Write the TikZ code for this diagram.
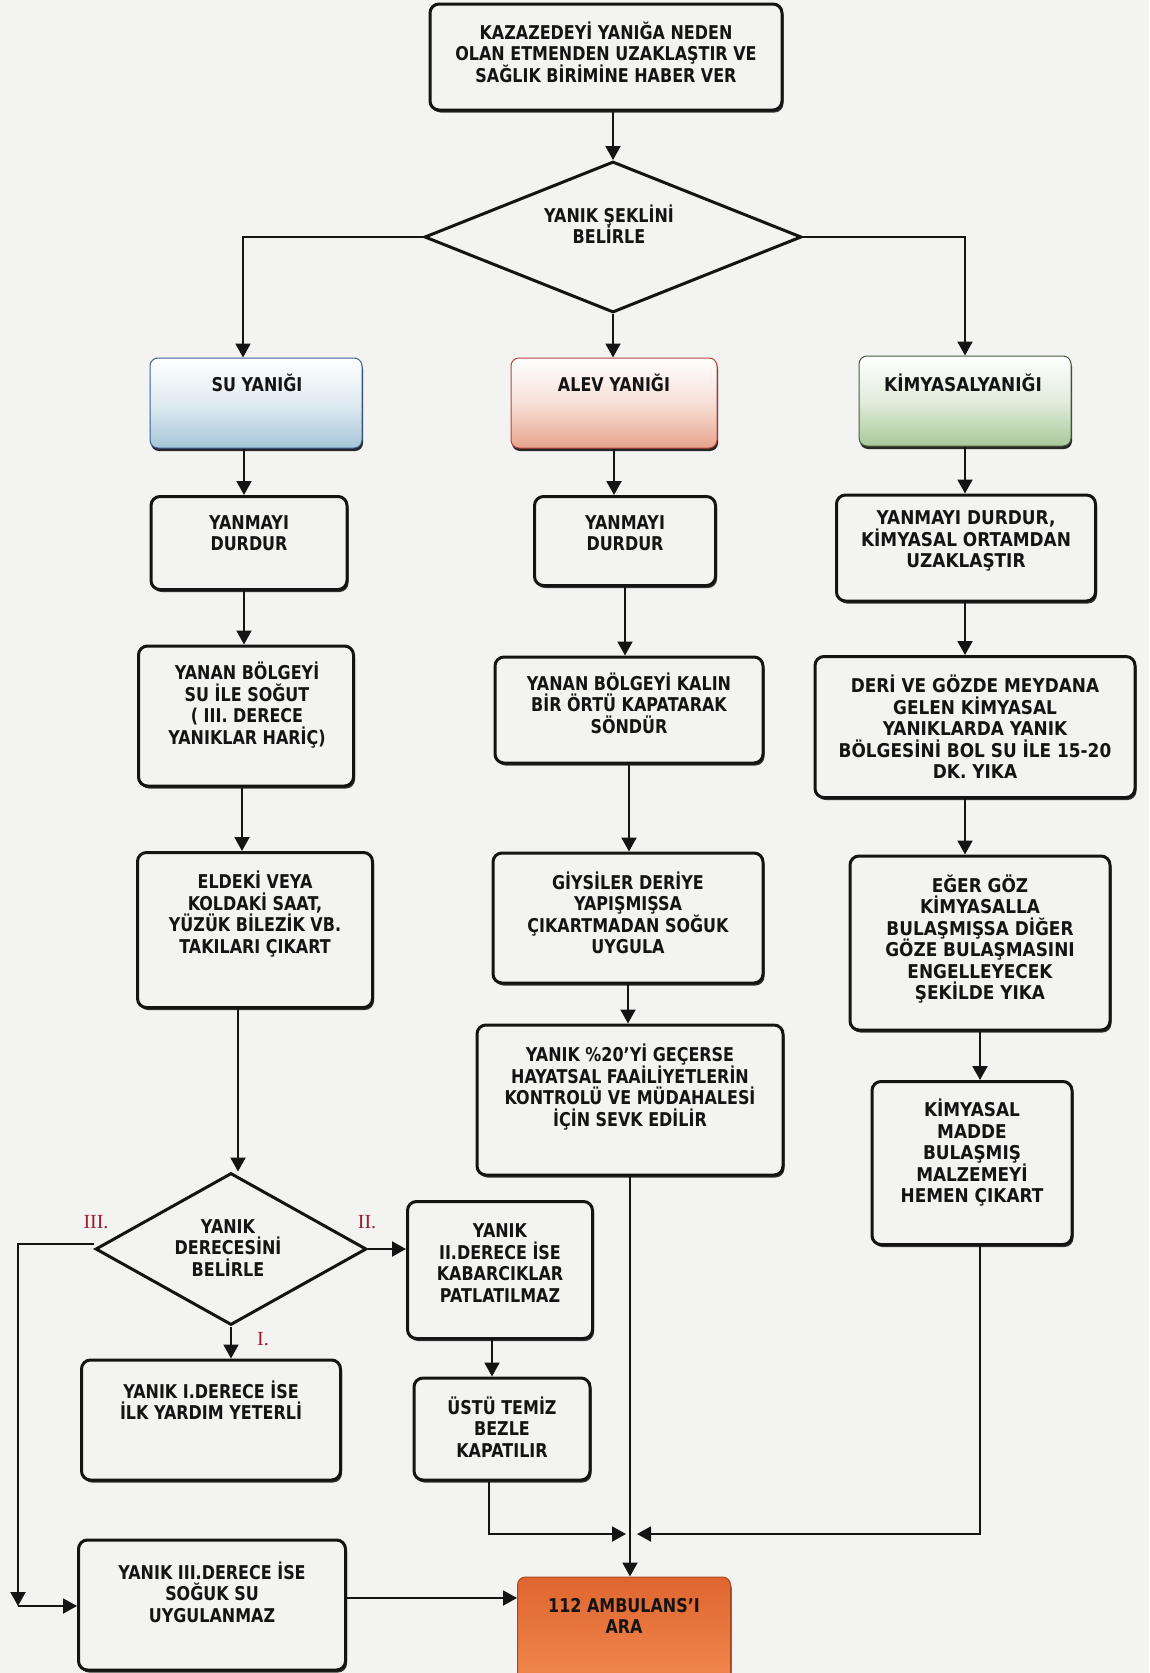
\documentclass[tikz,border=0pt]{standalone}
\usepackage{fontspec}
\setmainfont{DejaVu Sans}[FakeStretch=0.84]
\newfontfamily\widefont{DejaVu Sans}[FakeStretch=0.89]
\newfontfamily\serfont{Liberation Serif}
\usetikzlibrary{shapes.geometric,arrows.meta,shadows}
\definecolor{bg}{HTML}{F3F3F1}
\definecolor{ink}{HTML}{141414}
\definecolor{lred}{HTML}{9B1B30}
\definecolor{suB}{HTML}{A6C6D8}
\definecolor{suD}{HTML}{3B5F95}
\definecolor{alB}{HTML}{E6A48C}
\definecolor{alD}{HTML}{B8443C}
\definecolor{kmB}{HTML}{A9C99A}
\definecolor{kmD}{HTML}{4A5A40}
\definecolor{amT}{HTML}{E06530}
\definecolor{amM}{HTML}{F08A4E}
\definecolor{amD}{HTML}{A8481E}
\tikzset{
  bx/.style={draw=ink, line width=3pt, rounded corners=9pt, fill=bg, inner sep=0pt,
    drop shadow={shadow xshift=1.5pt, shadow yshift=-2.5pt, fill=black!80, opacity=1}},
  cbx/.style={line width=1pt, rounded corners=8pt, inner sep=0pt,
    drop shadow={shadow xshift=1pt, shadow yshift=-3pt, fill=black!85, opacity=1}},
  dia/.style={diamond, draw=ink, line width=3pt, fill=bg, inner sep=0pt},
  txt/.style={align=center, font=\bfseries\fontsize{19}{21.5}\selectfont, text=ink, inner sep=0pt},
  wtxt/.style={align=center, font=\widefont\bfseries\fontsize{19}{21.5}\selectfont, text=ink, inner sep=0pt},
  conn/.style={draw=ink, line width=2pt, -{Triangle[length=14pt,width=15pt]}},
  lbl/.style={font=\serfont\fontsize{20}{22}\selectfont, text=lred, inner sep=0pt}
}
\begin{document}
\begin{tikzpicture}[x=1pt,y=-1pt]
\useasboundingbox (0,0) rectangle (1149,1673);
\clip (0,0) rectangle (1149,1673);
\fill[bg] (0,0) rectangle (1149,1673);

% ---- boxes ----
\node[bx, minimum width=352pt, minimum height=106pt] (top) at (606,57) {};
\node[txt] (topT) at (606,52) {KAZAZEDEYİ YANIĞA NEDEN\\OLAN ETMENDEN UZAKLAŞTIR VE\\SAĞLIK BİRİMİNE HABER VER};

\node[dia, minimum width=377pt, minimum height=151pt] (d1) at (613,237) {};
\node[txt] (d1T) at (609,224) {YANIK ŞEKLİNİ\\BELİRLE};

\node[cbx, draw=suD, top color=white, bottom color=suB, middle color=suB!35!white, minimum width=212pt, minimum height=90pt] (su) at (256,403) {};
\node[txt] (suT) at (257,383) {SU YANIĞI};
\node[cbx, draw=alD, top color=white, bottom color=alB, middle color=alB!35!white, minimum width=206pt, minimum height=90pt] (alev) at (614,403) {};
\node[txt] (alevT) at (614,383) {ALEV YANIĞI};
\node[cbx, draw=kmD, top color=white, bottom color=kmB, middle color=kmB!35!white, minimum width=212pt, minimum height=90pt] (kim) at (965,401) {};
\node[wtxt] (kimT) at (963,383) {KİMYASALYANIĞI};

% column 1
\node[bx, minimum width=196pt, minimum height=93pt] (y1) at (249,543) {};
\node[txt] (y1T) at (249,533) {YANMAYI\\DURDUR};
\node[bx, minimum width=215pt, minimum height=140pt] (s1) at (246,716) {};
\node[txt] (s1T) at (247,705) {YANAN BÖLGEYİ\\SU İLE SOĞUT\\( III. DERECE\\YANIKLAR HARİÇ)};
\node[bx, minimum width=235pt, minimum height=155pt] (e1) at (255,930) {};
\node[txt] (e1T) at (255,914) {ELDEKİ VEYA\\KOLDAKİ SAAT,\\YÜZÜK BİLEZİK VB.\\TAKILARI ÇIKART};
\node[dia, minimum width=271pt, minimum height=152pt] (d2) at (231,1249) {};
\node[txt] (d2T) at (228,1248) {YANIK\\DERECESİNİ\\BELİRLE};
\node[bx, minimum width=259pt, minimum height=120pt] (i1) at (211,1420) {};
\node[txt] (i1T) at (211,1400) {YANIK I.DERECE İSE\\İLK YARDIM YETERLİ};
\node[bx, minimum width=267pt, minimum height=130pt] (iii) at (212,1605) {};
\node[txt] (iiiT) at (212,1592) {YANIK III.DERECE İSE\\SOĞUK SU\\UYGULANMAZ};

% column 2
\node[bx, minimum width=181pt, minimum height=89pt] (y2) at (625,541) {};
\node[txt] (y2T) at (625,533) {YANMAYI\\DURDUR};
\node[bx, minimum width=268pt, minimum height=106pt] (k2) at (629,710) {};
\node[txt] (k2T) at (629,703) {YANAN BÖLGEYİ KALIN\\BİR ÖRTÜ KAPATARAK\\SÖNDÜR};
\node[bx, minimum width=270pt, minimum height=130pt] (g2) at (628,918) {};
\node[txt] (g2T) at (628,913) {GİYSİLER DERİYE\\YAPIŞMIŞSA\\ÇIKARTMADAN SOĞUK\\UYGULA};
\node[bx, minimum width=306pt, minimum height=150pt] (p2) at (630,1100) {};
\node[txt] (p2T) at (630,1087) {YANIK \%20'Yİ GEÇERSE\\HAYATSAL FAAİLİYETLERİN\\KONTROLÜ VE MÜDAHALESİ\\İÇİN SEVK EDİLİR};
\node[bx, minimum width=185pt, minimum height=137pt] (ii) at (500,1270) {};
\node[txt] (iiT) at (500,1263) {YANIK\\II.DERECE İSE\\KABARCIKLAR\\PATLATILMAZ};
\node[bx, minimum width=176pt, minimum height=102pt] (u2) at (502,1429) {};
\node[txt] (u2T) at (502,1427) {ÜSTÜ TEMİZ\\BEZLE\\KAPATILIR};
\node[cbx, draw=amD, top color=amT, bottom color=amM, minimum width=213pt, minimum height=110pt] (amb) at (624,1632) {};
\node[txt] (ambT) at (624,1616) {112 AMBULANS'I\\ARA};

% column 3
\node[bx, minimum width=259pt, minimum height=106pt] (k3a) at (966,548) {};
\node[wtxt] (k3aT) at (966,541) {YANMAYI DURDUR,\\KİMYASAL ORTAMDAN\\UZAKLAŞTIR};
\node[bx, minimum width=320pt, minimum height=141pt] (k3b) at (975,727) {};
\node[wtxt] (k3bT) at (975,727) {DERİ VE GÖZDE MEYDANA\\GELEN KİMYASAL\\YANIKLARDA YANIK\\BÖLGESİNİ BOL SU İLE 15-20\\DK. YIKA};
\node[bx, minimum width=260pt, minimum height=174pt] (k3c) at (980,943) {};
\node[wtxt] (k3cT) at (980,939) {EĞER GÖZ\\KİMYASALLA\\BULAŞMIŞSA DİĞER\\GÖZE BULAŞMASINI\\ENGELLEYECEK\\ŞEKİLDE YIKA};
\node[bx, minimum width=200pt, minimum height=163pt] (k3d) at (972,1163) {};
\node[wtxt] (k3dT) at (972,1153) {KİMYASAL\\MADDE\\BULAŞMIŞ\\MALZEMEYİ\\HEMEN ÇIKART};

% ---- labels ----
\node[lbl] (l3) at (96,1222) {III.};
\node[lbl] (l2) at (367,1222) {II.};
\node[lbl] (l1) at (263,1339) {I.};

% ---- connectors ----
\draw[conn] (top.south -| d1.north) -- (d1.north);
\draw[conn] (d1.west) -| ([xshift=-13pt]su.north);
\draw[conn] (d1.south) -- (d1.south |- alev.north);
\draw[conn] (d1.east) -| (kim.north);

\draw[conn] ([xshift=-12pt]su.south) -- ([xshift=-12pt]su.south |- y1.north);
\draw[conn] ([xshift=-5pt]y1.south) -- ([xshift=-5pt]y1.south |- s1.north);
\draw[conn] ([xshift=-4pt]s1.south) -- ([xshift=-4pt]s1.south |- e1.north);
\draw[conn] ([xshift=-17pt]e1.south) -- ([xshift=-17pt]e1.south |- d2.north);
\draw[conn] (d2.south) -- (d2.south |- i1.north);
\draw[conn] (d2.east) -- (d2.east -| ii.west);
\coordinate (lc) at (18,1606);
\draw[conn] ([yshift=5pt]d2.west) -| (lc);
\draw[conn] (lc) -- (lc -| iii.west);
\draw[conn] ([yshift=7pt]iii.east) -- ([yshift=7pt]iii.east -| amb.west);

\draw[conn] (alev.south) -- (alev.south |- y2.north);
\draw[conn] (y2.south) -- (y2.south |- k2.north);
\draw[conn] (k2.south) -- (k2.south |- g2.north);
\draw[conn] (g2.south) -- (g2.south |- p2.north);
\draw[conn] (p2.south) -- (p2.south |- amb.north);
\draw[conn] ([xshift=-8pt]ii.south) -- ([xshift=-8pt]ii.south |- u2.north);
\coordinate (jl) at (626,1534);
\coordinate (jr) at (637,1534);
\draw[conn] ([xshift=-13pt]u2.south) |- (jl);
\draw[conn] ([xshift=8pt]k3d.south) |- (jr);

\draw[conn] (kim.south) -- (kim.south |- k3a.north);
\draw[conn] ([xshift=-1pt]k3a.south) -- ([xshift=-1pt]k3a.south |- k3b.north);
\draw[conn] ([xshift=-10pt]k3b.south) -- ([xshift=-10pt]k3b.south |- k3c.north);
\draw[conn] (k3c.south) -- (k3c.south |- k3d.north);
\end{tikzpicture}
\end{document}
